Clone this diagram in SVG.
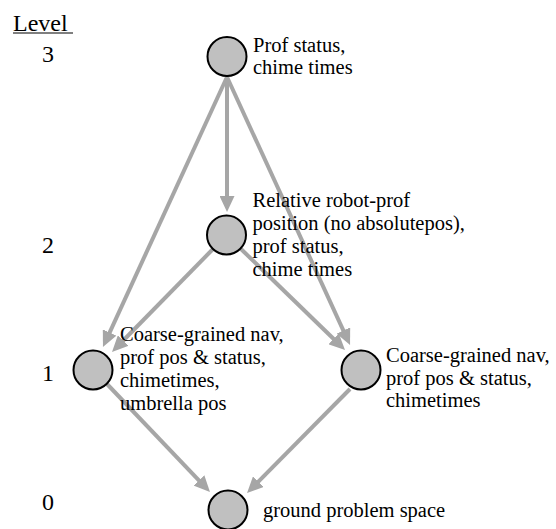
<svg xmlns="http://www.w3.org/2000/svg" width="556" height="529" viewBox="0 0 556 529">
  <defs>
    <marker id="ah" markerUnits="userSpaceOnUse" markerWidth="16" markerHeight="15" refX="2" refY="7.5" orient="auto">
      <path d="M0,0 L16,7.5 L0,15 Z" fill="#a6a6a6"/>
    </marker>
    <style>
      text { font-family: "Liberation Serif", "Times New Roman", Times, Tinos, "Nimbus Roman", "Nimbus Roman No9 L", "DejaVu Serif", "Noto Serif", FreeSerif, serif; }
      .lbl { font-size: 20.5px; }
      .lvl { font-size: 24px; }
      .edge { stroke: #a6a6a6; stroke-width: 4; fill: none; marker-end: url(#ah); }
      .node { fill: #c0c0c0; stroke: #000; stroke-width: 2; }
    </style>
  </defs>
  <rect width="556" height="529" fill="#fff"/>

  <g id="levels">
    <text class="lvl" x="13" y="30.5">Level</text>
    <line x1="13" y1="33" x2="73" y2="33" stroke="#000" stroke-width="1.2"/>
    <text class="lvl" x="48" y="62" text-anchor="middle">3</text>
    <text class="lvl" x="48" y="253" text-anchor="middle">2</text>
    <text class="lvl" x="48" y="381" text-anchor="middle">1</text>
    <text class="lvl" x="48" y="510" text-anchor="middle">0</text>
  </g>

  <g id="connectors">
    <line class="edge" x1="227" y1="77" x2="227" y2="198"/>
    <line class="edge" x1="227" y1="77" x2="108.8" y2="334.3"/>
    <line class="edge" x1="227" y1="77" x2="344.2" y2="332.3"/>
    <line class="edge" x1="213" y1="249" x2="121.8" y2="342"/>
    <line class="edge" x1="241" y1="249" x2="335" y2="340.3"/>
    <line class="edge" x1="107" y1="384" x2="200.3" y2="481.9"/>
    <line class="edge" x1="350" y1="389" x2="256.9" y2="483.1"/>
  </g>

  <g id="n3">
    <circle class="node" cx="227" cy="56.5" r="19.5"/>
    <text class="lbl" x="253" y="52">Prof status,</text>
    <text class="lbl" x="253" y="74">chime times</text>
  </g>

  <g id="n2">
    <circle class="node" cx="226.5" cy="235" r="19.5"/>
    <text class="lbl" x="252.5" y="207">Relative robot-prof</text>
    <text class="lbl" x="252.5" y="230">position (no absolutepos),</text>
    <text class="lbl" x="252.5" y="253">prof status,</text>
    <text class="lbl" x="252.5" y="276">chime times</text>
  </g>

  <g id="n1left">
    <circle class="node" cx="93" cy="370" r="19.5"/>
    <text class="lbl" x="120" y="340.5">Coarse-grained nav,</text>
    <text class="lbl" x="120" y="363.5">prof pos &amp; status,</text>
    <text class="lbl" x="120" y="386.5">chimetimes,</text>
    <text class="lbl" x="120" y="409.5">umbrella pos</text>
  </g>

  <g id="n1right">
    <circle class="node" cx="361" cy="370" r="19.5"/>
    <text class="lbl" x="386" y="362">Coarse-grained nav,</text>
    <text class="lbl" x="386" y="384.5">prof pos &amp; status,</text>
    <text class="lbl" x="386" y="407">chimetimes</text>
  </g>

  <g id="n0">
    <circle class="node" cx="228" cy="510" r="19.5"/>
    <text class="lbl" x="263" y="517">ground problem space</text>
  </g>
</svg>
